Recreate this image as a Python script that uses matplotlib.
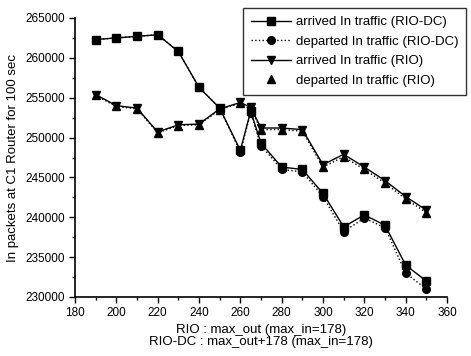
import numpy as np
import matplotlib
matplotlib.use('Agg')
import matplotlib.pyplot as plt
from matplotlib.ticker import MultipleLocator

plt.rcParams['font.family'] = ['Liberation Sans', 'DejaVu Sans']

# x positions (max_out)
x = [190, 200, 210, 220, 230, 240, 250, 260, 265, 270, 280, 290, 300, 310, 320, 330, 340, 350]

# packets
arrived_dc = [262300, 262500, 262700, 262900, 260800, 256300, 253700, 248400, 253300,
              249300, 246300, 246000, 243000, 238800, 240300, 239000, 234000, 232000]
departed_dc = [262300, 262500, 262700, 262900, 260800, 256300, 253700, 248200, 253100,
               249000, 246000, 245700, 242600, 238200, 239900, 238700, 233000, 231000]
arrived_rio = [255400, 254000, 253700, 250700, 251600, 251700, 253600, 254400, 253800,
               251200, 251200, 251000, 246600, 247900, 246300, 244600, 242600, 240900]
departed_rio = [255300, 253900, 253600, 250600, 251500, 251600, 253500, 254300, 253600,
                251000, 251000, 250800, 246300, 247600, 246000, 244300, 242300, 240600]

fig = plt.figure(figsize=(4.71, 3.56), dpi=100)
ax = fig.add_axes([75 / 471, 1 - 297 / 356, (447 - 75) / 471, (297 - 18) / 356])

ax.plot(x, arrived_dc, '-', color='black', lw=1.0, marker='s', ms=5.5,
        label='arrived In traffic (RIO-DC)')
ax.plot(x, departed_dc, ':', color='black', lw=1.0, marker='o', ms=5.5,
        label='departed In traffic (RIO-DC)')
ax.plot(x, arrived_rio, '-', color='black', lw=1.0, marker='v', ms=6,
        label='arrived In traffic (RIO)')
ax.plot(x, departed_rio, ':', color='black', lw=1.0)
ax.plot(x, departed_rio, ls='none', color='black', marker='^', ms=6,
        label='departed In traffic (RIO)')

ax.set_xlim(180, 360)
ax.set_ylim(230000, 265000)
ax.xaxis.set_major_locator(MultipleLocator(20))
ax.xaxis.set_minor_locator(MultipleLocator(10))
ax.yaxis.set_major_locator(MultipleLocator(5000))
ax.yaxis.set_minor_locator(MultipleLocator(2500))
ax.tick_params(which='both', direction='out', width=1.0, labelsize=8.5)
ax.tick_params(which='major', length=4)
ax.tick_params(which='minor', length=2.5)
ax.spines['top'].set_visible(False)
ax.spines['right'].set_visible(False)
ax.spines['left'].set_linewidth(1.2)
ax.spines['bottom'].set_linewidth(1.2)

ax.set_ylabel('In packets at C1 Router for 100 sec', fontsize=9.5)
ax.set_xlabel('RIO : max_out (max_in=178)\nRIO-DC : max_out+178 (max_in=178)',
              fontsize=9.5, linespacing=1.05, labelpad=3)

leg = fig.legend(loc='upper left', bbox_to_anchor=(243 / 471, 1 - 8 / 356),
                 fontsize=9.5, frameon=True, fancybox=False, edgecolor='black',
                 handlelength=3.0, borderpad=0.6, labelspacing=0.55,
                 handletextpad=0.4, borderaxespad=0)
leg.get_frame().set_linewidth(1.0)

fig.savefig('out.png', dpi=100)
